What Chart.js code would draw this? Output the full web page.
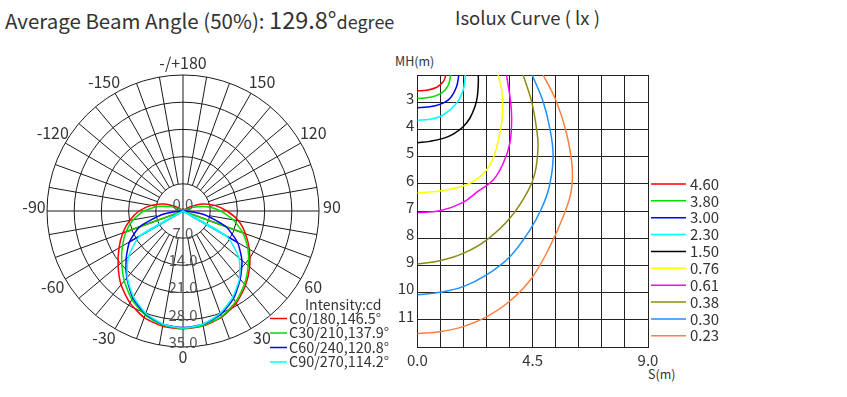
<!DOCTYPE html>
<html>
<head>
<meta charset="utf-8">
<script src="https://cdn.jsdelivr.net/npm/chart.js@4.4.1/dist/chart.umd.min.js"></script>
<style>
  body { margin: 0; width: 847px; height: 397px; background: #fff; position: relative; overflow: hidden;
         font-family: "Noto Sans CJK TC", "Noto Sans", sans-serif; color: #333; }
  .txt { position: absolute; white-space: nowrap; line-height: 1; }
  #polarBox { position: absolute; left: 0; top: 40px; width: 400px; height: 340px; }
  #isoBox { position: absolute; left: 380px; top: 40px; width: 467px; height: 350px; }
</style>
</head>
<body>
<div class="txt" style="left:5px; top:8px; font-size:20.5px;">Average Beam Angle (50%): <span style="font-size:23.5px">129.8°</span><span style="font-size:18px">degree</span></div>
<div class="txt" style="left:455px; top:8px; font-size:18.5px;">Isolux Curve ( lx )</div>
<div class="txt" style="left:395px; top:55px; font-size:12.5px;">MH(m)</div>
<div class="txt" style="left:648px; top:368px; font-size:12.5px;">S(m)</div>
<div id="polarBox"><canvas id="polarChart" width="400" height="340"></canvas></div>
<div id="isoBox"><canvas id="isoChart" width="467" height="350"></canvas></div>
<script>
// ---- polar intensity diagram (cd), gamma 0..180 every 10 deg ----
const GAMMA = [0, 10, 20, 30, 40, 50, 60, 70, 80, 90, 100, 110, 120, 130, 140, 150, 160, 170, 180];
const c0   = [30.3, 30.0, 29.1, 27.4, 25.0, 22.4, 19.7, 17.1, 14.5, 11.3, 8.3, 5.3, 2.2, 0.6, 0, 0, 0, 0, 0];
const c180 = [30.3, 30.1, 29.2, 27.3, 24.8, 21.8, 19.0, 16.5, 13.9, 11.3, 8.3, 5.3, 2.3, 0.6, 0, 0, 0, 0, 0];
const c30  = [30.2, 29.9, 28.9, 27.0, 24.6, 21.9, 19.3, 16.4, 13.1, 9.7, 6.2, 2.9, 0.8, 0, 0, 0, 0, 0, 0];
const c210 = [30.2, 29.8, 28.5, 26.3, 23.5, 20.6, 18.0, 15.6, 13.0, 10.1, 6.6, 3.1, 0.8, 0, 0, 0, 0, 0, 0];
const c60  = [30.0, 29.6, 28.3, 26.0, 22.9, 19.8, 16.2, 11.7, 5.6, 0.8, 0, 0, 0, 0, 0, 0, 0, 0, 0];
const c240 = [30.0, 29.6, 28.2, 25.8, 22.5, 19.1, 15.9, 11.9, 5.6, 0.8, 0, 0, 0, 0, 0, 0, 0, 0, 0];
const c90  = [30.1, 29.6, 28.0, 25.6, 22.6, 18.8, 13.0, 0, 0, 0, 0, 0, 0, 0, 0, 0, 0, 0, 0];
const c270 = [30.1, 29.6, 28.0, 25.5, 22.3, 18.3, 12.8, 0, 0, 0, 0, 0, 0, 0, 0, 0, 0, 0, 0];
const cutGamma = [70, 70, 60, 60];   // where the inner chord of each pair leaves the curve

const PLANE_NAMES = ['C0/180,146.5°', 'C30/210,137.9°', 'C60/240,120.8°', 'C90/270,114.2°'];
const PLANE_COLORS = ['#ff0000', '#00dd00', '#0000ff', '#00ffff'];
const PLANE_DATA = [[c0, c180], [c30, c210], [c60, c240], [c90, c270]];

const RING_VALUES = [0, 7, 14, 21, 28, 35];
const ANGLE_LABELS = [-150, -120, -90, -60, -30, 0, 30, 60, 90, 120, 150, 180];

// ---- isolux curves: [S (m), MH (m)] ----
const S_TICKS = [0, 0.9, 1.8, 2.7, 3.6, 4.5, 5.4, 6.3, 7.2, 8.1, 9.0];
const S_LABELS = [0, 4.5, 9];
const MH_TICKS = [2, 3, 4, 5, 6, 7, 8, 9, 10, 11, 12];
const MH_LABELS = [3, 4, 5, 6, 7, 8, 9, 10, 11];
const LUX_LEVELS = ['4.60', '3.80', '3.00', '2.30', '1.50', '0.76', '0.61', '0.38', '0.30', '0.23'];
const LUX_COLORS = ['#ff0000', '#00dd00', '#0000ff', '#00ffff', '#000000', '#ffff00', '#ff00ff', '#8b8b16', '#1e8fff', '#ff7f40'];
const iso460 = [[1.12, 2.0], [1.01, 2.25], [0.76, 2.45], [0.37, 2.56], [0, 2.58]];
const iso380 = [[1.30, 2.0], [1.21, 2.37], [0.95, 2.67], [0.49, 2.82], [0, 2.86]];
const iso300 = [[1.62, 2.0], [1.53, 2.43], [1.27, 2.86], [0.88, 3.08], [0.40, 3.18], [0, 3.20]];
const iso230 = [[1.88, 2.0], [1.79, 2.55], [1.53, 3.04], [1.01, 3.47], [0.49, 3.63], [0, 3.66]];
const iso150 = [[2.38, 2.0], [2.38, 2.31], [2.34, 2.80], [2.25, 3.16], [2.05, 3.59], [1.79, 3.90], [1.40, 4.17], [1.01, 4.33], [0.49, 4.44], [0, 4.49]];
const iso076 = [[3.16, 2.0], [3.29, 2.55], [3.33, 3.04], [3.29, 3.78], [3.03, 4.88], [2.70, 5.49], [2.05, 5.98], [1.01, 6.25], [0, 6.33]];
const iso061 = [[3.48, 2.0], [3.64, 2.98], [3.68, 3.65], [3.61, 4.51], [3.35, 5.25], [2.96, 5.86], [2.38, 6.27], [1.79, 6.68], [0.88, 6.99], [0, 7.06]];
const iso038 = [[4.13, 2.0], [4.46, 2.98], [4.65, 3.96], [4.71, 4.64], [4.59, 5.61], [4.30, 6.30], [3.61, 7.27], [2.70, 8.07], [1.79, 8.56], [0.88, 8.83], [0, 8.95]];
const iso030 = [[4.48, 2.0], [4.91, 2.98], [5.17, 3.96], [5.30, 5.0], [5.15, 6.1], [4.85, 6.9], [4.39, 7.70], [3.61, 8.68], [2.70, 9.35], [1.79, 9.78], [0.88, 9.99], [0, 10.08]];
const iso023 = [[4.91, 2.0], [5.43, 2.98], [5.82, 4.14], [6.04, 5.37], [6.0, 6.3], [5.69, 7.21], [5.17, 8.31], [4.46, 9.47], [3.61, 10.31], [2.70, 10.89], [1.79, 11.25], [0.88, 11.44], [0, 11.51]];
const ISO_CURVES = [iso460, iso380, iso300, iso230, iso150, iso076, iso061, iso038, iso030, iso023];

const FONT = '"Noto Sans CJK TC", "Noto Sans", sans-serif';

function toXY(g, I) {
    const t = g * Math.PI / 180;
    return { x: I * Math.sin(t), y: -I * Math.cos(t) };
}

function planePath(right, left) {
    const pts = [];
    for (let i = GAMMA.length - 1; i >= 1; i--) pts.push(toXY(-GAMMA[i], left[i]));
    for (let i = 0; i < GAMMA.length; i++) pts.push(toXY(GAMMA[i], right[i]));
    return pts;
}

function chordPath(right, left, cut) {
    const k = GAMMA.indexOf(cut);
    return [toXY(-cut, left[k]), { x: 0, y: 0 }, toXY(cut, right[k])];
}

const polarDatasets = [];
PLANE_DATA.forEach(([right, left], i) => {
    // later planes drawn on top (lower order = drawn last)
    const base = { borderColor: PLANE_COLORS[i], borderWidth: 1.5, pointRadius: 0, showLine: true, order: 10 - i };
    polarDatasets.push({ ...base, label: PLANE_NAMES[i], data: planePath(right, left), tension: 0.2 });
    polarDatasets.push({ ...base, label: '', data: chordPath(right, left, cutGamma[i]), tension: 0 });
});

const polarGrid = {
    id: 'polarGrid',
    beforeDatasetsDraw(chart) {
        const { ctx, scales: { x, y } } = chart;
        const cx = x.getPixelForValue(0), cy = y.getPixelForValue(0);
        const rad = (v) => x.getPixelForValue(v) - cx;
        const rIn = rad(RING_VALUES[1]), rOut = rad(RING_VALUES[RING_VALUES.length - 1]);
        ctx.save();
        ctx.strokeStyle = '#1a1a1a';
        ctx.lineWidth = 1;
        RING_VALUES.slice(1).forEach((v) => {
            ctx.beginPath();
            ctx.arc(cx, cy, rad(v), 0, Math.PI * 2);
            ctx.stroke();
        });
        for (let a = 0; a < 360; a += 10) {
            const t = a * Math.PI / 180;
            const r0 = a % 90 === 0 ? 0 : rIn;
            ctx.beginPath();
            ctx.moveTo(cx + r0 * Math.sin(t), cy + r0 * Math.cos(t));
            ctx.lineTo(cx + rOut * Math.sin(t), cy + rOut * Math.cos(t));
            ctx.stroke();
        }
        ctx.restore();
    },
    afterDraw(chart) {
        const { ctx, scales: { x, y } } = chart;
        const cx = x.getPixelForValue(0), cy = y.getPixelForValue(0);
        const rad = (v) => x.getPixelForValue(v) - cx;
        const rOut = rad(RING_VALUES[RING_VALUES.length - 1]);
        ctx.save();
        ctx.textAlign = 'center';
        ctx.textBaseline = 'middle';
        // angle labels around the outside
        ctx.font = '16px ' + FONT;
        ctx.fillStyle = '#333';
        ANGLE_LABELS.forEach((a) => {
            const txt = a === 180 ? '-/+180' : String(a);
            const t = a * Math.PI / 180;
            const s = Math.sin(t), c = Math.cos(t);
            const d = rOut + 4;
            const dx = Math.abs(s) < 0.01 ? 0 : Math.sign(s) * 9;
            const dy = c > 0.01 ? 6 : (c < -0.01 ? -8 : -4);
            ctx.fillText(txt, cx + d * s + dx, cy + d * c + dy);
        });
        // ring values down the 0 axis
        ctx.font = '15px ' + FONT;
        ctx.fillStyle = '#555';
        RING_VALUES.forEach((v) => {
            ctx.fillText(v.toFixed(1), cx, cy + rad(v) - (v === 0 ? 7 : 5));
        });
        // legend
        ctx.textAlign = 'left';
        ctx.fillStyle = '#333';
        ctx.font = '14px ' + FONT;
        ctx.fillText('Intensity:cd', 305, 265);
        ctx.font = '14.4px ' + FONT;
        PLANE_NAMES.forEach((name, i) => {
            const yy = 278.5 + i * 14.5;
            ctx.strokeStyle = PLANE_COLORS[i];
            ctx.lineWidth = 1.5;
            ctx.beginPath();
            ctx.moveTo(270, yy);
            ctx.lineTo(287, yy);
            ctx.stroke();
            ctx.fillText(name, 289, yy);
        });
        ctx.restore();
    }
};

new Chart(document.getElementById('polarChart'), {
    type: 'scatter',
    data: { datasets: polarDatasets },
    options: {
        responsive: false,
        animation: false,
        layout: { padding: { left: 47, right: 81, top: 35, bottom: 33 } },
        scales: {
            x: { type: 'linear', min: -35, max: 35, display: false },
            y: { type: 'linear', min: -35, max: 35, display: false },
        },
        plugins: { legend: { display: false }, tooltip: { enabled: false } },
    },
    plugins: [polarGrid],
});

// ---- isolux chart ----
const isoLegend = {
    id: 'isoLegend',
    afterDraw(chart) {
        const { ctx } = chart;
        ctx.save();
        ctx.font = '15px ' + FONT;
        ctx.fillStyle = '#333';
        ctx.textBaseline = 'middle';
        LUX_LEVELS.forEach((lv, i) => {
            const yy = 144 + i * 16.86;
            ctx.strokeStyle = LUX_COLORS[i];
            ctx.lineWidth = 1.5;
            ctx.beginPath();
            ctx.moveTo(271, yy);
            ctx.lineTo(306, yy);
            ctx.stroke();
            ctx.fillText(lv, 310, yy);
        });
        ctx.restore();
    }
};

new Chart(document.getElementById('isoChart'), {
    type: 'scatter',
    data: {
        datasets: ISO_CURVES.map((pts, i) => ({
            label: LUX_LEVELS[i],
            data: pts.map(([s, mh]) => ({ x: s, y: mh })),
            showLine: true,
            borderColor: LUX_COLORS[i],
            borderWidth: 1.5,
            pointRadius: 0,
            tension: 0.4,
        })),
    },
    options: {
        responsive: false,
        animation: false,
        layout: { padding: { left: 0, right: 199, top: 35, bottom: 0 } },
        scales: {
            x: {
                type: 'linear', min: 0, max: 9,
                afterBuildTicks: (s) => { s.ticks = S_TICKS.map((v) => ({ value: v })); },
                afterFit: (s) => { s.height = 43; },
                grid: { color: '#222', drawTicks: false },
                border: { color: '#222' },
                ticks: {
                    padding: 4, color: '#333', font: { size: 15, family: FONT }, maxRotation: 0, autoSkip: false,
                    callback: (v) => (S_LABELS.includes(v) ? v.toFixed(1) : ''),
                },
            },
            y: {
                type: 'linear', min: 2, max: 12, reverse: true,
                afterBuildTicks: (s) => { s.ticks = MH_TICKS.map((v) => ({ value: v })); },
                afterFit: (s) => { s.width = 37.3; },
                grid: { color: '#222', drawTicks: false },
                border: { color: '#222' },
                ticks: {
                    padding: 3, labelOffset: -4, color: '#333', font: { size: 15, family: FONT }, autoSkip: false,
                    callback: (v) => (MH_LABELS.includes(v) ? String(v) : ''),
                },
            },
        },
        plugins: { legend: { display: false }, tooltip: { enabled: false } },
    },
    plugins: [isoLegend],
});
</script>
</body>
</html>
